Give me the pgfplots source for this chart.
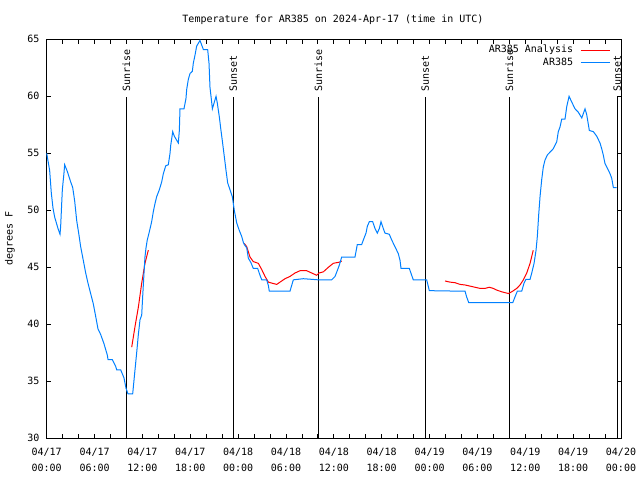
\documentclass[border=0pt]{standalone}
\usepackage{pgfplots}
\pgfplotsset{compat=1.18}
\usepackage{fontspec}
\setmainfont{DejaVu Sans Mono}
\definecolor{obsblue}{RGB}{0,128,255}
\begin{document}
\begin{tikzpicture}[font=\fontsize{10}{12}\selectfont]
\path[use as bounding box] (0pt,0pt) rectangle (640pt,480pt);
\begin{axis}[
  at={(46.7pt,41.7pt)}, anchor=south west,
  scale only axis, width=574.3pt, height=399pt,
  xmin=0, xmax=72, ymin=30, ymax=65,
  clip=false,
  xtick={0,6,...,72},
  minor xtick={2,4,...,70},
  xticklabels={{04/17\\00:00},{04/17\\06:00},{04/17\\12:00},{04/17\\18:00},{04/18\\00:00},{04/18\\06:00},{04/18\\12:00},{04/18\\18:00},{04/19\\00:00},{04/19\\06:00},{04/19\\12:00},{04/19\\18:00},{04/20\\00:00}},
  xticklabel style={align=center, font=\fontsize{10}{16}\selectfont, inner sep=0pt, anchor=north, yshift=-9.5pt},
  ytick={30,35,...,65},
  yticklabel style={inner sep=0pt, anchor=east, xshift=-7pt},
  /pgf/number format/assume math mode=true,
  major tick length=4.5pt, minor tick length=4.5pt,
  every tick/.style={black, line width=0.8pt},
  axis line style={line width=0.8pt},
  tick align=inside,
  unbounded coords=jump,
  legend plot pos=right,
  legend cell align=right,
  legend style={draw=none, fill=none, at={(rel axis cs:0.981,0.9845)}, anchor=north east,
    inner sep=0pt, outer sep=0pt, row sep=2.3pt, column sep=7pt,
    nodes={inner sep=0pt, text height=7.5pt, text depth=2.5pt}},
  legend image code/.code={\draw[#1] (0pt,0pt) -- (29pt,0pt);},
]
% event lines
\addplot[black, line width=0.8pt, forget plot] coordinates {(9.98,30) (9.98,59.9)};
\addplot[black, line width=0.8pt, forget plot] coordinates {(23.39,30) (23.39,59.9)};
\addplot[black, line width=0.8pt, forget plot] coordinates {(34.05,30) (34.05,59.9)};
\addplot[black, line width=0.8pt, forget plot] coordinates {(47.47,30) (47.47,59.9)};
\addplot[black, line width=0.8pt, forget plot] coordinates {(58.00,30) (58.00,59.9)};
\addplot[black, line width=0.8pt, forget plot] coordinates {(71.54,30) (71.54,59.9)};
\node[rotate=90, anchor=west, inner xsep=6pt, inner ysep=0pt] at (axis cs:9.98,59.9) {Sunrise};
\node[rotate=90, anchor=west, inner xsep=6pt, inner ysep=0pt] at (axis cs:23.39,59.9) {Sunset};
\node[rotate=90, anchor=west, inner xsep=6pt, inner ysep=0pt] at (axis cs:34.05,59.9) {Sunrise};
\node[rotate=90, anchor=west, inner xsep=6pt, inner ysep=0pt] at (axis cs:47.47,59.9) {Sunset};
\node[rotate=90, anchor=west, inner xsep=6pt, inner ysep=0pt] at (axis cs:58.00,59.9) {Sunrise};
\node[rotate=90, anchor=west, inner xsep=6pt, inner ysep=0pt] at (axis cs:71.54,59.9) {Sunset};
% titles
\node[anchor=base] at (axis description cs:0.4985,1.041) {Temperature for AR385 on 2024-Apr-17 (time in UTC)};
\node[rotate=90] at (axis description cs:-0.0639,0.5) {degrees F};
% analysis (red)
\addplot[red, line width=1pt] coordinates {
(10.66,38.0) (11.07,39.8) (11.49,41.5) (11.91,43.6) (12.32,45.35) (12.74,46.5)
(18,nan)
(24.77,47.1) (25.08,46.8) (25.49,45.9) (25.9,45.5) (26.53,45.35) (26.96,44.8) (27.37,44.2) (27.79,43.7) (28.29,43.6) (28.84,43.5) (29.25,43.7) (29.88,44.0) (30.5,44.2) (31.13,44.5) (31.76,44.7) (32.6,44.7) (33.22,44.5) (33.85,44.3) (34.14,44.5) (34.68,44.6) (35.31,45.0) (35.93,45.35) (36.69,45.45) (36.98,45.55)
(45,nan)
(49.94,43.8) (50.56,43.7) (51.19,43.65) (51.82,43.5) (52.45,43.45) (53.07,43.35) (53.7,43.25) (54.33,43.15) (54.96,43.15) (55.49,43.25) (55.99,43.15) (56.42,43.0) (57.05,42.85) (57.88,42.7) (58.3,42.85) (58.93,43.15) (59.34,43.45) (59.76,43.9) (60.18,44.5) (60.6,45.35) (61.0,46.5)
};
\addlegendentry{AR385 Analysis}
% observations (blue)
\addplot[obsblue, line width=1pt] coordinates {
(0.0,55.0) (0.37,53.5) (0.58,51.5) (0.79,50.2) (1.0,49.4) (1.21,48.9) (1.42,48.4) (1.67,47.9) (1.75,48.6) (1.96,51.8) (2.17,53.3) (2.25,54.0) (2.59,53.4) (3.0,52.5) (3.26,52.0) (3.51,50.8) (3.76,49.1) (4.01,48.0) (4.26,46.8) (4.59,45.6) (4.89,44.5) (5.18,43.6) (5.51,42.7) (5.84,41.8) (6.14,40.7) (6.43,39.6) (6.77,39.1) (7.18,38.3) (7.6,37.3) (7.69,36.9) (8.23,36.9) (8.65,36.3) (8.78,36.0) (9.28,36.0) (9.69,35.3) (9.94,34.4) (10.19,33.9) (10.78,33.9)
(11.07,36.0) (11.28,37.5) (11.49,39.1) (11.7,40.4) (11.91,40.8) (12.03,42.4) (12.2,44.5) (12.32,45.9) (12.45,46.7) (12.61,47.4) (12.86,48.1) (13.16,49.0) (13.37,49.9) (13.58,50.6) (13.79,51.2) (14.12,51.8) (14.42,52.5) (14.62,53.2) (14.92,53.9) (15.25,54.0) (15.46,55.0) (15.55,55.7) (15.8,56.9) (16.0,56.5) (16.5,55.9) (16.63,57.0) (16.71,58.9) (17.21,58.9) (17.46,59.8) (17.55,60.6) (17.76,61.5) (17.97,62.0) (18.26,62.2) (18.38,62.9) (18.59,63.6) (18.8,64.4) (19.22,64.9) (19.64,64.1) (20.18,64.1) (20.35,62.9) (20.47,60.8) (20.68,59.5) (20.77,58.9) (21.02,59.5) (21.23,60.0) (21.39,59.4) (21.64,58.2) (21.85,57.0) (22.0,56.2) (22.27,54.7) (22.48,53.5) (22.69,52.4) (22.98,51.8) (23.27,51.2) (23.52,50.0) (23.82,48.9) (24.11,48.3) (24.45,47.7) (24.65,47.2) (24.77,47.0)
(25.08,46.7) (25.28,45.8) (25.61,45.4) (25.9,44.9) (26.45,44.9) (26.74,44.3) (26.96,43.9) (27.58,43.9) (27.79,43.4) (27.91,42.9) (30.5,42.9) (30.92,43.9) (32.17,44.0) (34.05,43.9) (35.73,43.9) (36.15,44.2) (36.48,44.8) (36.69,45.2) (36.98,45.9) (38.65,45.9) (38.94,47.0) (39.49,47.0) (39.7,47.4) (40.03,48.0) (40.2,48.6) (40.45,49.0) (40.87,49.0) (41.16,48.4) (41.45,48.0) (41.7,48.4) (41.91,49.0) (42.2,48.4) (42.41,48.0) (42.95,47.9) (43.25,47.4) (43.67,46.8) (44.08,46.2) (44.3,45.6) (44.42,44.9) (45.46,44.9) (45.76,44.3) (45.96,43.9) (47.64,43.9) (47.97,42.95)
(52.45,42.9) (52.65,42.4) (52.91,41.9) (58.43,41.9) (58.71,42.4) (59.0,42.9) (59.55,42.9) (59.84,43.6) (60.09,43.95) (60.6,43.95) (60.81,44.5) (61.1,45.35) (61.35,46.5) (61.51,47.7) (61.69,49.7) (61.85,51.2) (62.06,52.7) (62.26,53.8) (62.47,54.4) (62.76,54.85) (63.1,55.1) (63.51,55.4) (63.94,56.0) (64.14,56.9) (64.35,57.3) (64.57,58.0) (64.98,58.0) (65.2,59.1) (65.49,60.0) (65.82,59.5) (66.24,58.9) (66.65,58.6) (67.08,58.1) (67.49,58.9) (67.7,58.4) (68.03,57.0) (68.53,56.9) (68.96,56.5) (69.37,55.9) (69.58,55.4) (69.78,54.85) (69.99,54.1) (70.29,53.7) (70.63,53.2) (70.84,52.8) (71.04,52.0) (71.46,52.0)
};
\addlegendentry{AR385}
\end{axis}
\end{tikzpicture}
\end{document}
